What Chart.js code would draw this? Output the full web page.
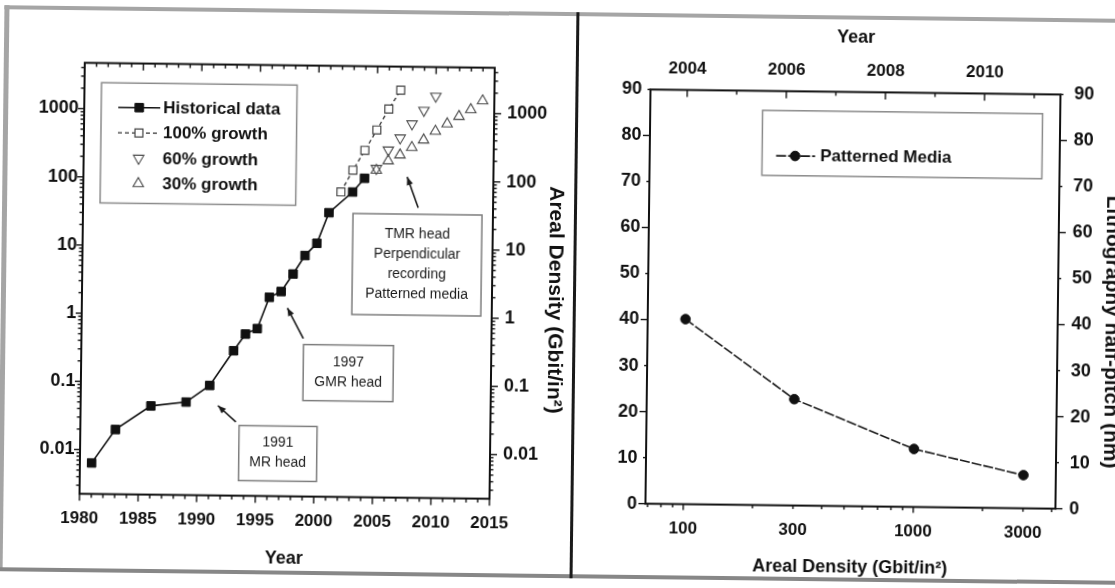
<!DOCTYPE html>
<html>
<head>
<meta charset="utf-8">
<title>Areal density trends and patterned media half-pitch</title>
<script src="https://cdn.jsdelivr.net/npm/chart.js"></script>
<style>
  html, body { margin: 0; padding: 0; background: #fff; overflow: hidden; }
  #sheet { position: relative; width: 1115px; height: 588px; transform: rotate(0.7deg); transform-origin: 557.5px 294px; }
  #sheet canvas { position: absolute; top: 2px; }
  #left { left: 0; }
  #right { left: 574px; }
  .rule { position: absolute; }
</style>
</head>
<body>
<div id="sheet">
  <div class="rule" style="left:1px;top:12px;width:5px;height:565px;background:#a5a5a5"></div>
  <div class="rule" style="left:1px;top:12px;width:1130px;height:4px;background:#a5a5a5"></div>
  <div class="rule" style="left:1px;top:574px;width:1130px;height:4px;background:#878787"></div>
  <canvas id="left" width="574" height="588"></canvas>
  <canvas id="right" width="551" height="588"></canvas>
  <div class="rule" style="left:573px;top:12px;width:2.5px;height:566px;background:#1a1a1a"></div>
</div>
<script>
// ---------- left panel: areal density history and growth scenarios ----------
const histYears   = [1981, 1983, 1986, 1989, 1991, 1993, 1994, 1995, 1996, 1997, 1998, 1999, 2000, 2001, 2003, 2004];
const histDensity = [0.0064, 0.020, 0.045, 0.052, 0.092, 0.30, 0.53, 0.64, 1.85, 2.26, 4.1, 7.7, 11.7, 33, 67, 107];
const years100    = [2002, 2003, 2004, 2005, 2006, 2007];
const growth100   = [67, 140, 275, 550, 1120, 2130];
const years60     = [2005, 2006, 2007, 2008, 2009, 2010];
const growth60    = [150, 281, 424, 686, 1086, 1763];
const years30     = [2005, 2006, 2007, 2008, 2009, 2010, 2011, 2012, 2013, 2014];
const growth30    = [141, 195, 239, 309, 400, 539, 697, 900, 1137, 1534];
const seriesNames = ['Historical data', '100% growth', '60% growth', '30% growth'];
const yearTicks    = [1980, 1985, 1990, 1995, 2000, 2005, 2010, 2015];
const densityTicks = [0.01, 0.1, 1, 10, 100, 1000];

// ---------- right panel: lithography half-pitch for patterned media ----------
const pmDensity      = [100, 300, 1000, 3000];
const pmHalfPitch    = [40.2, 23.1, 12.6, 7.2];
const pmName         = 'Patterned Media';
const pmDensityTicks = [100, 300, 1000, 3000];
const pmYearTicks    = [2004, 2006, 2008, 2010];
const pitchTicks     = [0, 10, 20, 30, 40, 50, 60, 70, 80, 90];

const FAMILY = "'Liberation Sans', Arial, Helvetica, sans-serif";
const INK = '#111';
Chart.defaults.font.family = FAMILY;
Chart.defaults.color = INK;

const pts = (xs, ys) => xs.map((x, i) => ({ x, y: ys[i] }));
const fixTicks = list => scale => { scale.ticks = list.map(v => ({ value: v })); };
const bold = size => ({ family: FAMILY, size, weight: 'bold' });

// minor tick positions for the axes
const everyYear = [];
for (let y = 1980; y <= 2015; y++) if (y % 5) everyYear.push(y);
const logMinor = (lo, hi, skip) => {
  const out = [];
  for (let e = -4; e <= 4; e++) for (let k = 1; k <= 9; k++) {
    const v = +(k * Math.pow(10, e)).toPrecision(6);
    if (v >= lo && v <= hi && !skip.includes(v)) out.push(v);
  }
  return out;
};

// plot frame plus major/minor tick marks drawn from each scale
const frameTicks = {
  id: 'frameTicks',
  beforeDatasetsDraw(chart, args, o) {
    const { ctx, chartArea: a } = chart;
    const dirs = { bottom: [0, 1], top: [0, -1], left: [-1, 0], right: [1, 0] };
    ctx.save();
    ctx.strokeStyle = INK;
    ctx.lineWidth = o.tickWidth;
    for (const m of o.marks) {
      const s = chart.scales[m.scale];
      const [dx, dy] = dirs[m.side].map(d => d * m.dir);
      for (const [vals, len] of [[m.major, m.majorLen], [m.minor, m.minorLen]]) {
        for (const v of vals) {
          const p = s.getPixelForValue(v);
          let x0, y0;
          if (m.side === 'bottom') { x0 = p; y0 = a.bottom; }
          else if (m.side === 'top') { x0 = p; y0 = a.top; }
          else if (m.side === 'left') { x0 = a.left; y0 = p; }
          else { x0 = a.right; y0 = p; }
          ctx.beginPath();
          ctx.moveTo(x0, y0);
          ctx.lineTo(x0 + dx * len, y0 + dy * len);
          ctx.stroke();
        }
      }
    }
    ctx.lineWidth = o.frameWidth;
    ctx.strokeRect(a.left, a.top, a.right - a.left, a.bottom - a.top);
    ctx.restore();
  }
};

// boxed key listing the datasets with their own marker styles
const keyBox = {
  id: 'keyBox',
  afterDatasetsDraw(chart, args, o) {
    const ctx = chart.ctx;
    ctx.save();
    ctx.fillStyle = '#fff';
    ctx.fillRect(o.x, o.y, o.w, o.h);
    ctx.strokeStyle = '#8a8a8a';
    ctx.lineWidth = 1.5;
    ctx.strokeRect(o.x, o.y, o.w, o.h);
    chart.data.datasets.forEach((ds, i) => {
      const y = o.y + o.firstRow + i * o.rowGap;
      if (ds.showLine !== false) {
        ctx.save();
        ctx.strokeStyle = ds.borderColor;
        ctx.lineWidth = ds.borderWidth;
        ctx.setLineDash(ds.borderDash || []);
        ctx.beginPath();
        ctx.moveTo(o.x + o.lineFrom, y);
        ctx.lineTo(o.x + o.lineTo, y);
        ctx.stroke();
        ctx.restore();
      }
      ctx.fillStyle = ds.pointBackgroundColor;
      ctx.strokeStyle = ds.pointBorderColor;
      ctx.lineWidth = ds.pointBorderWidth;
      ctx.setLineDash([]);
      Chart.helpers.drawPoint(ctx, {
        pointStyle: ds.pointStyle, rotation: ds.pointRotation || 0,
        radius: ds.pointRadius, borderWidth: ds.pointBorderWidth
      }, o.x + o.marker, y);
      ctx.fillStyle = INK;
      ctx.font = `bold ${o.fontSize}px ${FAMILY}`;
      ctx.textAlign = 'left';
      ctx.textBaseline = 'middle';
      ctx.fillText(ds.label, o.x + o.textAt, y + 0.5);
    });
    ctx.restore();
  }
};

// boxed notes with arrows, anchored in data coordinates
const notes = {
  id: 'notes',
  afterDatasetsDraw(chart, args, o) {
    const { ctx, scales: { x, y } } = chart;
    ctx.save();
    for (const n of o.items) {
      const tx = x.getPixelForValue(n.to[0]), ty = y.getPixelForValue(n.to[1]);
      const fx = x.getPixelForValue(n.from[0]), fy = y.getPixelForValue(n.from[1]);
      ctx.strokeStyle = '#1a1a1a';
      ctx.fillStyle = '#1a1a1a';
      ctx.lineWidth = 1.6;
      ctx.beginPath(); ctx.moveTo(fx, fy); ctx.lineTo(tx, ty); ctx.stroke();
      const ang = Math.atan2(ty - fy, tx - fx);
      ctx.beginPath();
      ctx.moveTo(tx, ty);
      ctx.lineTo(tx - 8 * Math.cos(ang) + 3.2 * Math.sin(ang), ty - 8 * Math.sin(ang) - 3.2 * Math.cos(ang));
      ctx.lineTo(tx - 8 * Math.cos(ang) - 3.2 * Math.sin(ang), ty - 8 * Math.sin(ang) + 3.2 * Math.cos(ang));
      ctx.closePath();
      ctx.fill();

      const cx = x.getPixelForValue(n.at[0]), cy = y.getPixelForValue(n.at[1]);
      ctx.fillStyle = '#fff';
      ctx.fillRect(cx - n.w / 2, cy - n.h / 2, n.w, n.h);
      ctx.strokeStyle = '#7d7d7d';
      ctx.lineWidth = 1.5;
      ctx.strokeRect(cx - n.w / 2, cy - n.h / 2, n.w, n.h);
      ctx.fillStyle = '#1c1c1c';
      ctx.font = `14px ${FAMILY}`;
      ctx.textAlign = 'center';
      ctx.textBaseline = 'middle';
      n.lines.forEach((t, i) => ctx.fillText(t, cx, cy + (i - (n.lines.length - 1) / 2) * 20 - 0.5));
    }
    ctx.restore();
  }
};

// vertical axis title reading top to bottom on the right-hand side
const sideTitle = {
  id: 'sideTitle',
  afterDraw(chart, args, o) {
    const ctx = chart.ctx;
    ctx.save();
    ctx.translate(o.x, o.y);
    ctx.rotate(Math.PI / 2);
    ctx.font = `bold ${o.size}px ${FAMILY}`;
    ctx.fillStyle = INK;
    ctx.textAlign = 'center';
    ctx.textBaseline = 'middle';
    ctx.fillText(o.text, 0, 0);
    ctx.restore();
  }
};

const hidden = { display: false, drawTicks: false };
const noBorder = { display: false };

// ---------- left chart ----------
const dMin = 0.00225, dMax = 4710;
new Chart(document.getElementById('left'), {
  type: 'line',
  data: {
    datasets: [
      { label: seriesNames[0], data: pts(histYears, histDensity), borderColor: INK, borderWidth: 1.6,
        pointStyle: 'rect', pointRadius: 6, pointBackgroundColor: INK, pointBorderColor: INK, pointBorderWidth: 1, clip: false },
      { label: seriesNames[1], data: pts(years100, growth100), borderColor: '#333', borderWidth: 1.3, borderDash: [4, 3],
        pointStyle: 'rect', pointRadius: 5.6, pointBackgroundColor: '#fff', pointBorderColor: '#444', pointBorderWidth: 1.2, clip: false },
      { label: seriesNames[2], data: pts(years60, growth60), showLine: false, borderColor: '#444',
        pointStyle: 'triangle', pointRotation: 180, pointRadius: 6, pointBackgroundColor: 'rgba(255,255,255,0)', pointBorderColor: '#4a4a4a', pointBorderWidth: 1.1, clip: false },
      { label: seriesNames[3], data: pts(years30, growth30), showLine: false, borderColor: '#444',
        pointStyle: 'triangle', pointRadius: 6, pointBackgroundColor: 'rgba(255,255,255,0)', pointBorderColor: '#4a4a4a', pointBorderWidth: 1.1, clip: false }
    ]
  },
  options: {
    responsive: false, animation: false, devicePixelRatio: 1,
    layout: { padding: { top: 66.6, left: 0, right: 0, bottom: 0 } },
    elements: { line: { tension: 0 } },
    plugins: {
      legend: { display: false }, tooltip: { enabled: false },
      frameTicks: {
        tickWidth: 1.4, frameWidth: 2,
        marks: [
          { scale: 'x', side: 'bottom', dir: 1, major: yearTicks, minor: everyYear, majorLen: 7, minorLen: 4 },
          { scale: 'x', side: 'top', dir: -1, major: yearTicks, minor: everyYear, majorLen: 7, minorLen: 4 },
          { scale: 'y', side: 'left', dir: 1, major: densityTicks, minor: logMinor(dMin, dMax, densityTicks), majorLen: 6, minorLen: 3.5 },
          { scale: 'y2', side: 'right', dir: 1, major: densityTicks, minor: logMinor(dMin, dMax, densityTicks), majorLen: 7, minorLen: 3.5 }
        ]
      },
      keyBox: { x: 99, y: 86.3, w: 195.6, h: 120.2, firstRow: 24.5, rowGap: 25.3,
                lineFrom: 17, lineTo: 59, marker: 38, textAt: 62, fontSize: 17 },
      notes: {
        items: [
          { lines: ['TMR head', 'Perpendicular', 'recording', 'Patterned media'], at: [2008.56, 5.9], w: 129, h: 101,
            from: [2008.61, 40.5], to: [2007.64, 114] },
          { lines: ['1997', 'GMR head'], at: [2002.81, 0.148], w: 90, h: 56, from: [1998.94, 0.465], to: [1997.55, 1.30] },
          { lines: ['1991', 'MR head'], at: [1996.88, 0.0095], w: 78, h: 55, from: [1993.27, 0.0272], to: [1991.72, 0.0468] }
        ]
      },
      sideTitle: { text: 'Areal Density (Gbit/in²)', x: 555, y: 298, size: 21 }
    },
    scales: {
      x: {
        type: 'linear', position: 'bottom', min: 1980, max: 2015,
        afterBuildTicks: fixTicks(yearTicks),
        ticks: { font: bold(17), color: INK, padding: 15, maxRotation: 0, autoSkip: false, callback: v => String(v) },
        grid: hidden, border: noBorder,
        title: { display: true, text: 'Year', font: bold(18), color: INK, padding: { top: 0, bottom: 17 } },
        afterFit: s => { s.height = 90.4; }
      },
      y: {
        type: 'logarithmic', position: 'left', min: dMin, max: dMax,
        afterBuildTicks: fixTicks(densityTicks),
        ticks: { font: bold(18), color: INK, padding: 5.5, autoSkip: false, callback: v => String(v) },
        grid: hidden, border: noBorder,
        afterFit: s => { s.width = 82; }
      },
      y2: {
        type: 'logarithmic', position: 'right', min: dMin, max: dMax,
        afterBuildTicks: fixTicks(densityTicks),
        ticks: { font: bold(18), color: INK, padding: 13, autoSkip: false, callback: v => String(v) },
        grid: hidden, border: noBorder,
        afterFit: s => { s.width = 82; }
      }
    }
  },
  plugins: [frameTicks, keyBox, notes, sideTitle]
});

// ---------- right chart ----------
const pMin = 68.5, pMax = 4150;
new Chart(document.getElementById('right'), {
  type: 'line',
  data: {
    datasets: [
      { label: pmName, data: pts(pmDensity, pmHalfPitch), xAxisID: 'x', yAxisID: 'y',
        borderColor: '#1a1a1a', borderWidth: 1.6, borderDash: [10, 2],
        pointStyle: 'circle', pointRadius: 4.8, pointBackgroundColor: INK, pointBorderColor: INK, pointBorderWidth: 1, clip: false }
    ]
  },
  options: {
    responsive: false, animation: false, devicePixelRatio: 1,
    layout: { padding: 0 },
    plugins: {
      legend: { display: false }, tooltip: { enabled: false },
      frameTicks: {
        tickWidth: 1.4, frameWidth: 2,
        marks: [
          { scale: 'y', side: 'left', dir: 1, major: [0, 20, 40, 60, 80], minor: [10, 30, 50, 70, 90], majorLen: 7, minorLen: 3 },
          { scale: 'y2', side: 'right', dir: 1, major: [0, 20, 40, 60, 80], minor: [10, 30, 50, 70, 90], majorLen: 7, minorLen: 3 },
          { scale: 'x', side: 'bottom', dir: 1, major: [100, 1000], minor: logMinor(pMin, pMax, [100, 1000]), majorLen: 6, minorLen: 3.5 },
          { scale: 'x2', side: 'top', dir: -1, major: pmYearTicks, minor: [2005, 2007, 2009, 2011], majorLen: 7, minorLen: 4 }
        ]
      },
      keyBox: { x: 186.4, y: 105.8, w: 280, h: 65, firstRow: 45.3, rowGap: 25,
                lineFrom: 14, lineTo: 53, marker: 33, textAt: 58, fontSize: 17 },
      sideTitle: { text: 'Lithography half-pitch (nm)', x: 537.4, y: 323.2, size: 21 }
    },
    scales: {
      x: {
        type: 'logarithmic', position: 'bottom', min: pMin, max: pMax,
        afterBuildTicks: fixTicks(pmDensityTicks),
        ticks: { font: bold(17), color: INK, padding: 14.4, maxRotation: 0, autoSkip: false, callback: v => String(v) },
        grid: hidden, border: noBorder,
        title: { display: true, text: 'Areal Density (Gbit/in²)', font: bold(18), color: INK, padding: { top: 0, bottom: 14.7 } },
        afterFit: s => { s.height = 87.4; }
      },
      x2: {
        type: 'linear', position: 'top', min: 2003.26, max: 2011.53,
        afterBuildTicks: fixTicks(pmYearTicks),
        ticks: { font: bold(17), color: INK, padding: 10.9, maxRotation: 0, autoSkip: false, callback: v => String(v) },
        grid: hidden, border: noBorder,
        title: { display: true, text: 'Year', font: bold(18), color: INK, padding: { top: 21.6, bottom: 0 } },
        afterFit: s => { s.height = 86.4; }
      },
      y: {
        type: 'linear', position: 'left', min: 0, max: 90,
        afterBuildTicks: fixTicks(pitchTicks),
        ticks: { font: bold(18), color: INK, padding: 8.5, autoSkip: false, callback: v => String(v) },
        grid: hidden, border: noBorder,
        afterFit: s => { s.width = 74; }
      },
      y2: {
        type: 'linear', position: 'right', min: 0, max: 90,
        afterBuildTicks: fixTicks(pitchTicks),
        ticks: { font: bold(18), color: INK, padding: 13.8, autoSkip: false, callback: v => String(v) },
        grid: hidden, border: noBorder,
        afterFit: s => { s.width = 67; }
      }
    }
  },
  plugins: [frameTicks, keyBox, sideTitle]
});
</script>
</body>
</html>
